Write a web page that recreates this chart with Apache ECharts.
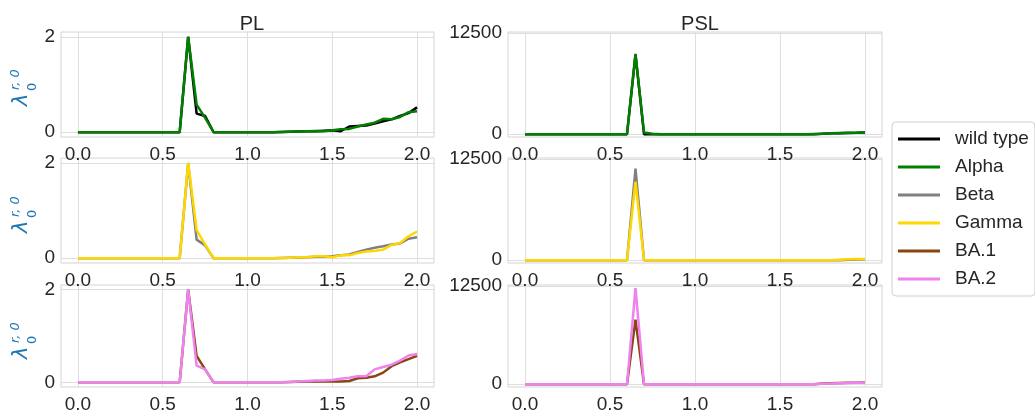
<!DOCTYPE html>
<html>
<head>
<meta charset="utf-8">
<script src="https://cdn.jsdelivr.net/npm/echarts@6/dist/echarts.min.js"></script>
<style>html,body{margin:0;padding:0;background:#fff;}#c{width:1035px;height:414px;}</style>
</head>
<body>
<div id="c"></div>
<script>
const xs = [0.0,0.05,0.1,0.15,0.2,0.25,0.3,0.35,0.4,0.45,0.5,0.55,0.6,0.65,0.7,0.75,0.8,0.85,0.9,0.95,1.0,1.05,1.1,1.15,1.2,1.25,1.3,1.35,1.4,1.45,1.5,1.55,1.6,1.65,1.7,1.75,1.8,1.85,1.9,1.95,2.0];
const xTicks = [0, 0.5, 1.0, 1.5, 2.0];
const plTicks = [0, 2];
const pslTicks = [0, 12500];
const names = ['wild type','Alpha','Beta','Gamma','BA.1','BA.2'];
const colors = ['#000000','#008000','#808080','#FFD700','#8B4513','#EE82EE'];

// PL values
const plWild  = [0,0,0,0,0,0,0,0,0,0,0,0,0,2.0,0.39,0.34,0,0,0,0,0,0,0,0,0.005,0.01,0.015,0.02,0.02,0.03,0.04,0.02,0.12,0.13,0.14,0.18,0.23,0.27,0.34,0.40,0.52];
const plAlpha = [0,0,0,0,0,0,0,0,0,0,0,0,0,2.0,0.58,0.30,0,0,0,0,0,0,0,0,0.005,0.01,0.015,0.02,0.025,0.02,0.04,0.06,0.07,0.12,0.16,0.20,0.28,0.27,0.32,0.42,0.44];
const plBeta  = [0,0,0,0,0,0,0,0,0,0,0,0,0,1.98,0.39,0.27,0,0,0,0,0,0,0,0,0.005,0.01,0.015,0.02,0.03,0.03,0.04,0.06,0.08,0.13,0.18,0.22,0.25,0.29,0.31,0.41,0.44];
const plGamma = [0,0,0,0,0,0,0,0,0,0,0,0,0,2.0,0.59,0.29,0,0,0,0,0,0,0,0,0.005,0.01,0.02,0.02,0.04,0.04,0.02,0.06,0.06,0.11,0.14,0.15,0.18,0.28,0.32,0.46,0.56];
const plBA1   = [0,0,0,0,0,0,0,0,0,0,0,0,0,2.0,0.57,0.28,0,0,0,0,0,0,0,0,0.005,0.01,0.015,0.02,0.02,0.02,0.02,0.02,0.03,0.09,0.10,0.13,0.21,0.35,0.43,0.50,0.57];
const plBA2   = [0,0,0,0,0,0,0,0,0,0,0,0,0,2.0,0.36,0.28,0,0,0,0,0,0,0,0,0.005,0.01,0.02,0.03,0.04,0.04,0.05,0.08,0.10,0.13,0.13,0.28,0.33,0.38,0.47,0.58,0.61];

// PSL values
const pslWild  = [0,0,0,0,0,0,0,0,0,0,0,0,0,9800,0,0,0,0,0,0,0,0,0,0,0,0,0,0,0,0,0,0,0,0,0,50,100,120,150,170,200];
const pslAlpha = [0,0,0,0,0,0,0,0,0,0,0,0,0,9900,200,50,0,0,0,0,0,0,0,0,0,0,0,0,0,0,0,0,0,0,30,60,100,130,160,180,200];
const pslBeta  = [0,0,0,0,0,0,0,0,0,0,0,0,0,11300,0,0,0,0,0,0,0,0,0,0,0,0,0,0,0,0,0,0,0,0,0,0,0,0,50,80,100];
const pslGamma = [0,0,0,0,0,0,0,0,0,0,0,0,0,9700,0,0,0,0,0,0,0,0,0,0,0,0,0,0,0,0,0,0,0,0,0,0,0,60,100,130,150];
const pslBA1   = [0,0,0,0,0,0,0,0,0,0,0,0,0,8200,0,0,0,0,0,0,0,0,0,0,0,0,0,0,0,0,0,0,0,0,0,80,120,150,180,200,230];
const pslBA2   = [0,0,0,0,0,0,0,0,0,0,0,0,0,12200,0,0,0,0,0,0,0,0,0,0,0,0,0,0,0,0,0,0,0,0,0,60,100,130,160,180,200];

const FONT = '"Liberation Sans", Arial, sans-serif';
const TXT = '#262626';
const GRIDC = '#dedede';
const LBL = '#1f77b4';

const rows = [
  {pl:[plWild, plAlpha], psl:[pslWild, pslAlpha], idx:[0,1]},
  {pl:[plBeta, plGamma], psl:[pslBeta, pslGamma], idx:[2,3]},
  {pl:[plBA1, plBA2], psl:[pslBA1, pslBA2], idx:[4,5]}
];
const rowTops = [32, 158, 285];
const rowH = 105;
const cols = [{left:61, width:373}, {left:508, width:374}];

const grids = [], xAxes = [], yAxes = [], series = [];
rows.forEach((r, ri) => {
  cols.forEach((c, ci) => {
    const gi = grids.length;
    grids.push({left:c.left, top:rowTops[ri], width:c.width, height:rowH, show:true,
      borderColor:'#d4d4d4', borderWidth:1, backgroundColor:'#fff', containLabel:false});
    xAxes.push({type:'value', gridIndex:gi, min:-0.1, max:2.1,
      axisLine:{show:false},
      axisTick:{show:false, customValues:xTicks},
      axisLabel:{customValues:xTicks, formatter:v=>v.toFixed(1), color:TXT, fontSize:19, fontFamily:FONT, margin:8},
      splitLine:{show:true, lineStyle:{color:GRIDC, width:1}}});
    const yt = ci === 0 ? plTicks : pslTicks;
    yAxes.push({type:'value', gridIndex:gi,
      min: ci === 0 ? -0.1 : -350, max: ci === 0 ? 2.1 : 12600,
      axisLine:{show:false},
      axisTick:{show:false, customValues:yt},
      axisLabel:{customValues:yt, formatter:v=>String(v), color:TXT, fontSize:19, fontFamily:FONT, margin:6, padding:[5,0,0,0]},
      splitLine:{show:true, lineStyle:{color:GRIDC, width:1}}});
    const sets = ci === 0 ? r.pl : r.psl;
    sets.forEach((vals, k) => {
      const ni = r.idx[k];
      series.push({type:'line', name:names[ni], xAxisIndex:gi, yAxisIndex:gi,
        data: xs.map((x, i) => [x, vals[i]]), symbol:'none', showSymbol:false,
        lineStyle:{color:colors[ni], width:2.5}, itemStyle:{color:colors[ni]},
        z: 2 + k, animation:false});
    });
  });
});

function txt(text, x, y, size, italic) {
  return {type:'text', x:x, y:y, style:{text:text, fontFamily:'DejaVu Sans', fontSize:size,
    fontStyle: italic ? 'italic' : 'normal', fill:LBL,
    textAlign:'left', textVerticalAlign:'middle', align:'left', verticalAlign:'middle'}};
}
function yLabel(cy) {
  return {type:'group', x:27, y:cy, rotation:Math.PI/2, silent:true, children:[
    txt('λ', -21, -5, 21, true),
    txt('0', -6, 5.5, 13, false),
    txt('r, 0', -5, -11, 13, true)
  ]};
}

const option = {
  animation:false,
  backgroundColor:'#fff',
  title:[
    {text:'PL', left:247, top:9, textAlign:'center', textStyle:{fontSize:20, fontWeight:'normal', color:TXT, fontFamily:FONT}},
    {text:'PSL', left:695, top:9, textAlign:'center', textStyle:{fontSize:20, fontWeight:'normal', color:TXT, fontFamily:FONT}}
  ],
  legend:{data:names, orient:'vertical', left:892, top:122, icon:'rect', itemWidth:42, itemHeight:3,
    itemGap:8, padding:[7,6,7,6], borderColor:'#d0d0d0', borderWidth:1, borderRadius:4, backgroundColor:'#fff',
    textStyle:{fontSize:19, fontFamily:FONT, color:TXT, lineHeight:20, padding:[0,0,0,10]}},
  grid:grids, xAxis:xAxes, yAxis:yAxes, series:series,
  graphic:[yLabel(85), yLabel(212), yLabel(338)]
};
const chart = echarts.init(document.getElementById('c'), null, {renderer:'canvas'});
chart.setOption(option);
</script>
</body>
</html>
